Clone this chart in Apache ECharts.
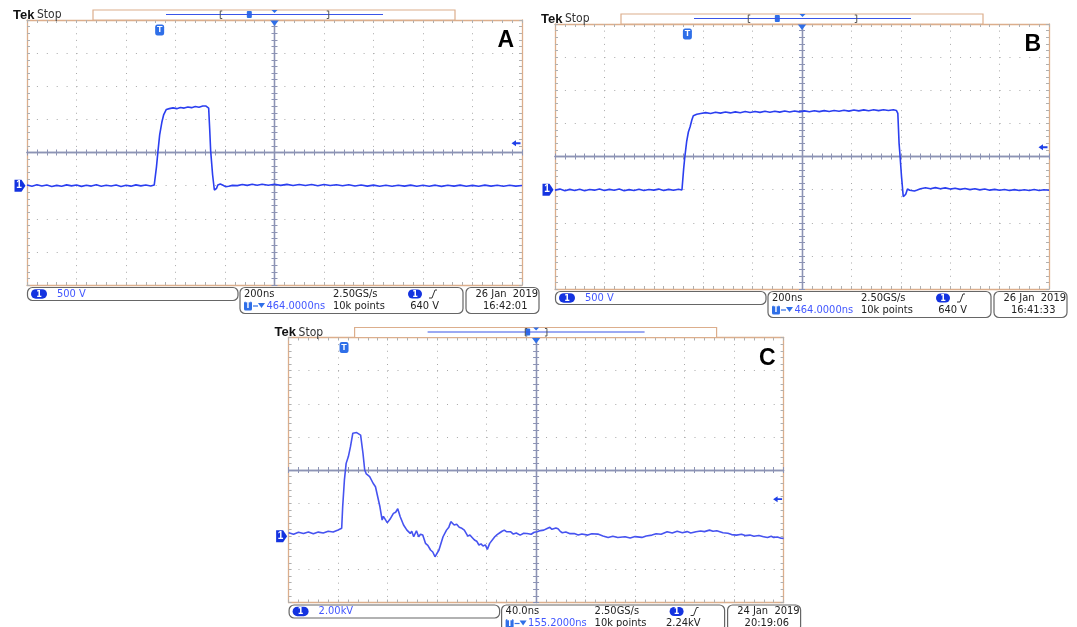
<!DOCTYPE html>
<html>
<head>
<meta charset="utf-8">
<title>Scope captures A, B, C</title>
<script src="https://cdn.jsdelivr.net/npm/echarts@6/dist/echarts.min.js"></script>
<style>
  html, body { margin: 0; padding: 0; background: #fff; }
  #charts { width: 1077px; height: 627px; }
</style>
</head>
<body>
<div id="charts"></div>
<script>
// traces: [time from left edge of screen (ns), value]
// A and B in volts, C in kV
const traceA = [
    [0, 8], [20, -10], [40, 12], [60, -6], [80, 10], [100, -12], [120, 4], [140, -9], [160, 11], [180, -4],
    [200, 9], [220, -11], [240, 5], [260, -7], [280, 12], [300, -10], [320, 6], [340, -5], [360, 10], [380, -12],
    [400, 5], [420, -8], [440, 11], [460, -4], [480, 9], [500, -7], [514, 8],
    [518, 30], [523, 280], [529, 514], [536, 765], [545, 960], [552, 1067], [563, 1150], [575, 1162],
    [590, 1174], [605, 1162], [620, 1180], [635, 1170], [650, 1188], [665, 1177], [680, 1194], [695, 1184],
    [710, 1201], [722, 1203], [730, 1206], [734, 1170], [738, 866], [742, 529], [750, 160], [757, -66],
    [761, -82], [766, -40], [771, 9], [781, 24], [792, 5], [802, -15], [815, -10], [830, 4], [850, 0],
    [870, 18], [890, 4], [910, 20], [930, 6], [950, 22], [975, 5], [1000, 20], [1025, 4], [1050, 19],
    [1075, 2], [1100, 18], [1125, 3], [1150, 16], [1175, -1], [1200, 17], [1225, 1], [1250, 14], [1275, -2],
    [1300, 12], [1325, -6], [1350, 9], [1375, -8], [1400, 8], [1425, -9], [1450, 6], [1475, -10], [1500, 5],
    [1525, -8], [1550, 8], [1575, -10], [1600, 6], [1625, -9], [1650, 7], [1675, -11], [1700, 5], [1725, -8],
    [1750, 8], [1775, -10], [1800, 4], [1825, -9], [1850, 7], [1875, -7], [1900, 6], [1925, -10], [1950, 5],
    [1975, -8], [2000, 3]
]
const traceB = [
    [0, -8], [20, 8], [40, -16], [60, 4], [80, -12], [100, 6], [120, -18], [140, 2], [160, -8], [180, 10],
    [200, -14], [220, 4], [240, -10], [260, 8], [280, -16], [300, 0], [320, -12], [340, 6], [360, -14], [380, 2],
    [400, -8], [420, 8], [440, -14], [460, 4], [480, -10], [500, 6], [514, -6],
    [518, -4], [521, 320], [526, 507], [533, 724], [540, 870], [547, 950], [554, 1050], [560, 1116], [574, 1137],
    [590, 1150], [610, 1162], [630, 1150], [650, 1168], [670, 1155], [690, 1172], [710, 1158], [730, 1174],
    [750, 1161], [770, 1178], [790, 1164], [810, 1180], [830, 1166], [850, 1182], [870, 1168], [890, 1184],
    [910, 1170], [930, 1186], [950, 1172], [970, 1188], [990, 1174], [1010, 1189], [1030, 1176], [1050, 1190],
    [1070, 1177], [1090, 1192], [1110, 1180], [1130, 1194], [1150, 1182], [1170, 1197], [1190, 1185],
    [1210, 1202], [1230, 1189], [1250, 1204], [1270, 1191], [1290, 1205], [1310, 1193], [1330, 1206],
    [1350, 1195], [1370, 1205], [1382, 1195], [1388, 1150], [1393, 698], [1397, 507], [1403, 193], [1410, -107],
    [1415, -115], [1420, -70], [1427, 9], [1436, -10], [1444, -32], [1455, -20], [1464, -8], [1480, 14],
    [1500, 28], [1520, 14], [1540, 30], [1560, 12], [1580, 26], [1600, 8], [1620, 22], [1640, 4], [1660, 18],
    [1680, 0], [1700, 14], [1720, -4], [1740, 10], [1760, -8], [1780, 4], [1800, -10], [1820, 2], [1840, -12],
    [1860, 0], [1880, -14], [1900, -2], [1920, -12], [1940, 2], [1960, -14], [1980, -2], [2000, -10]
]
const traceC = [
    [0, 0.21], [4, 0.12], [8, 0.24], [12, 0.17], [16, 0.26], [20, 0.15], [24, 0.25], [28, 0.2], [32, 0.3],
    [36, 0.26], [40, 0.38], [42.9, 0.48], [43.7, 1.78], [45.1, 3.4], [46.5, 4.4], [48.3, 4.81], [50, 5.41],
    [51.9, 6.22], [53.2, 6.31], [55, 6.26], [56.6, 6.31], [58.2, 6.11], [60.1, 5.01], [61.5, 4.0], [62.8, 3.76],
    [64, 3.82], [65.5, 3.6], [67, 3.5], [68.3, 3.2], [70.2, 2.99], [71.8, 2.89], [73.8, 1.78], [75.6, 0.98],
    [76.6, 1.2], [77.8, 1.18], [79.7, 0.82], [81.9, 1.02], [84.7, 1.38], [86.5, 1.45], [88.2, 1.66],
    [90.2, 1.18], [92.9, 0.68], [95.6, 0.37], [97, 0.45], [98.3, 0.17], [99.5, 0.3], [101.1, -0.03],
    [103.3, 0.33], [105.1, -0.03], [106.6, 0.12], [108.4, 0.07], [110.6, -0.43], [112.5, -0.55], [114.7, -0.83],
    [116.5, -0.95], [118.3, -1.24], [121.5, -0.83], [124.8, -0.03], [127.6, 0.37], [129.5, 0.55], [131.1, 0.88],
    [133.8, 0.68], [135.8, 0.72], [137.9, 0.54], [140, 0.48], [142, 0.37], [143.5, 0.45], [144.8, 0.01],
    [146.5, 0.08], [148.3, -0.07], [150.2, -0.23], [152, -0.3], [153.8, -0.53], [155.5, -0.46], [157.1, -0.59],
    [159, -0.52], [160.6, -0.79], [162.5, -0.43], [166.6, -0.03], [168.5, 0.1], [170.7, 0.21], [172.5, 0.3],
    [174.3, 0.37], [176, 0.28], [177.6, 0.21], [179.5, 0.27], [181.6, 0.13], [184, 0.2], [187.1, 0.07],
    [190, 0.18], [192.6, 0.17], [196, 0.12], [198.5, 0.24], [200.8, 0.27], [203.5, 0.34], [206.2, 0.37],
    [208.5, 0.45], [211.1, 0.54], [212.8, 0.42], [214.4, 0.37], [216, 0.5], [217.7, 0.45], [219.5, 0.3],
    [221.2, 0.21], [224, 0.26], [227, 0.16], [230.8, 0.17], [234, 0.08], [237, 0.14], [241.8, 0.07],
    [245, 0.15], [249.9, 0.13], [254, 0.02], [258.2, -0.07], [262, 0.0], [266, -0.08], [271.8, -0.03],
    [276, -0.1], [280, -0.02], [285.5, -0.07], [289, 0.02], [293.6, 0.07], [297, 0.15], [301, 0.12],
    [305.9, 0.27], [310, 0.2], [314, 0.3], [318.2, 0.21], [322, 0.28], [325, 0.2], [329.2, 0.27], [333, 0.32],
    [336, 0.28], [340.1, 0.37], [343, 0.3], [346, 0.33], [351, 0.21], [355, 0.18], [358, 0.1], [361.9, 0.07],
    [366, 0.12], [369, 0.04], [372.8, 0.07], [376, 0.0], [380, 0.05], [383.8, -0.03], [387, -0.08], [390, 0.0],
    [392, -0.07], [395, -0.05], [398, -0.12], [400, -0.13]
]

// scope settings of each capture
const panelNames = ['A', 'B', 'C']
const traces = [traceA, traceB, traceC]
const timePerDiv = [200, 200, 40]          // ns
const voltPerDiv = [500, 500, 2]           // V, V, kV
const groundDiv = [-1, -1, -2]             // ground marker, divisions from centre
const posDelay = [464, 464, 155.2]         // ns, centre of screen after trigger
const trigLevel = [640, 640, 2.24]
const recordLen = 4000                     // ns (10k points @ 2.5 GS/s)
const scaleLabels = ['500 V', '500 V', '2.00kV']
const timeLabels = ['200ns', '200ns', '40.0ns']
const levelLabels = ['640 V', '640 V', '2.24kV']
const dateLabels = ['26 Jan  2019', '26 Jan  2019', '24 Jan  2019']
const clockLabels = ['16:42:01', '16:41:33', '20:19:06']

// where each screen sits on the page
const layout = [
    { left: 27, top: 20, width: 495, height: 265 },
    { left: 555, top: 24, width: 494, height: 265 },
    { left: 288.6, top: 337.5, width: 495, height: 265 }
]
const traceColors = ['#2b3ff0', '#2b3ff0', '#4653f0']
const borderColor = '#dcae8c'
const crossColor = '#8c93b4'
const gridDot = '#a8a8a8'
const uiFont = "'Liberation Sans Narrow', 'DejaVu Sans Condensed', sans-serif"
const uiBlue = '#4257ff'
const iconBlue = '#2f6fe8'

let chart = echarts.init(document.getElementById('charts'))

function borderAxis(gi, pos, min, max, step, dash) {
    return {
        type: 'value', gridIndex: gi, position: pos, min: min, max: max, interval: step,
        axisLine: { show: true, onZero: false, lineStyle: { color: borderColor, width: 1.3 } },
        axisTick: { show: true, inside: true, length: 3, lineStyle: { color: '#b0b0b0' } },
        minorTick: { show: true, splitNumber: 5, length: 3, lineStyle: { color: '#b0b0b0' } },
        axisLabel: { show: false },
        splitLine: dash ? { show: true, lineStyle: { color: gridDot, width: 1, type: dash } } : { show: false },
        silent: true
    }
}

function centreAxis(gi, pos, half, other) {
    return {
        type: 'value', gridIndex: gi, position: pos, min: -half, max: half, interval: 1, z: 1,
        axisLine: { show: true, onZero: true, onZeroAxisIndex: other, lineStyle: { color: crossColor, width: 1.3 } },
        axisTick: { show: true, length: 3, lineStyle: { color: crossColor } },
        minorTick: { show: true, splitNumber: 5, length: 3, lineStyle: { color: crossColor } },
        axisLabel: { show: false },
        splitLine: { show: false },
        silent: true
    }
}

function txt(x, y, s, font, color, align) {
    return {
        type: 'text', silent: true, z: 50,
        style: {
            x: x, y: y, text: s, font: font, fill: color,
            align: align || 'left', textAlign: align || 'left',
            verticalAlign: 'middle', textVerticalAlign: 'middle'
        }
    }
}
function box(x, y, w, h, r, stroke, fill) {
    return {
        type: 'rect', silent: true, z: 40,
        shape: { x: x, y: y, width: w, height: h, r: r },
        style: { stroke: stroke, fill: fill, lineWidth: 1.2 }
    }
}
function line(points, color, width) {
    return { type: 'polyline', silent: true, z: 45, shape: { points: points }, style: { stroke: color, fill: null, lineWidth: width } }
}
function poly(points, color) {
    return { type: 'polygon', silent: true, z: 45, shape: { points: points }, style: { fill: color } }
}
function pill(x, y, w, h) {
    return [
        box(x, y, w, h, h / 2, null, '#1433e0'),
        txt(x + w / 2, y + h / 2 + 0.5, '1', 'bold 9px ' + uiFont, '#fff', 'center')
    ]
}

function panelGraphics(p) {
    const L = layout[p]
    const gx = L.left, top = L.top, gb = L.top + L.height
    let els = []

    // header
    els.push(txt(gx - 14, top - 5, 'Tek', 'bold 13px "Liberation Sans", sans-serif', '#111'))
    els.push(txt(gx + 10, top - 5, 'Stop', '12px ' + uiFont, '#333'))
    els.push(txt(gx + L.width - 8, top + 21, panelNames[p], 'bold 23px "Liberation Sans", sans-serif', '#000', 'right'))

    // record view bar
    const lineLen = 217
    const cx = gx + 247.5
    const bw = lineLen * 10 * timePerDiv[p] / recordLen
    els.push(box(gx + 66, top - 10, 362, 10, 0, borderColor, '#fff'))
    els.push(line([[gx + 139, top - 5.5], [gx + 356, top - 5.5]], '#3a55e8', 1.2))
    els.push(line([[cx - bw / 2 + 2, top - 9], [cx - bw / 2, top - 9], [cx - bw / 2, top - 1.5], [cx - bw / 2 + 2, top - 1.5]], '#555', 1))
    els.push(line([[cx + bw / 2 - 2, top - 9], [cx + bw / 2, top - 9], [cx + bw / 2, top - 1.5], [cx + bw / 2 - 2, top - 1.5]], '#555', 1))
    const tx = cx - posDelay[p] * lineLen / recordLen
    els.push(box(tx - 2.5, top - 9, 5, 7, 1, null, iconBlue))
    els.push(poly([[cx - 3, top - 10], [cx + 3, top - 10], [cx, top - 7]], iconBlue))

    // info bar
    els.push(box(gx + 0.5, gb + 2.5, 210.5, 13, 5, '#666', '#fff'))
    els = els.concat(pill(gx + 4, gb + 4.2, 16, 9.5))
    els.push(txt(gx + 30, gb + 9, scaleLabels[p], '11px ' + uiFont, uiBlue))

    els.push(box(gx + 213, gb + 2.5, 223, 26, 5, '#666', '#fff'))
    els.push(txt(gx + 217, gb + 9, timeLabels[p], '11px ' + uiFont, '#222'))
    els.push(txt(gx + 306, gb + 9, '2.50GS/s', '11px ' + uiFont, '#222'))
    els = els.concat(pill(gx + 381, gb + 4.5, 14, 9))
    els.push(line([[gx + 402, gb + 13], [gx + 405, gb + 13], [gx + 408, gb + 5], [gx + 410, gb + 5]], '#333', 1))
    els.push(box(gx + 217, gb + 16.5, 8, 9, 1.5, null, iconBlue))
    els.push(txt(gx + 221, gb + 21.3, 'T', 'bold 8px ' + uiFont, '#fff', 'center'))
    els.push(line([[gx + 226, gb + 21], [gx + 231, gb + 21]], iconBlue, 1.2))
    els.push(poly([[gx + 231, gb + 18], [gx + 238, gb + 18], [gx + 234.5, gb + 23]], iconBlue))
    els.push(txt(gx + 239.5, gb + 21, posDelay[p].toFixed(4) + 'ns', '11px ' + uiFont, uiBlue))
    els.push(txt(gx + 306, gb + 21, '10k points', '11px ' + uiFont, '#222'))
    els.push(txt(gx + 412, gb + 21, levelLabels[p], '11px ' + uiFont, '#222', 'right'))

    els.push(box(gx + 439, gb + 2.5, 73, 26, 5, '#666', '#fff'))
    els.push(txt(gx + 511, gb + 9, dateLabels[p], '11px ' + uiFont, '#222', 'right'))
    els.push(txt(gx + 456, gb + 21, clockLabels[p], '11px ' + uiFont, '#222'))
    return els
}

let grids = [], xAxes = [], yAxes = [], series = [], graphics = []
for (let p = 0; p < 3; p++) {
    const L = layout[p]
    const tMax = 10 * timePerDiv[p]
    const vMid = -groundDiv[p] * voltPerDiv[p]
    const vMin = vMid - 4 * voltPerDiv[p]
    const vMax = vMid + 4 * voltPerDiv[p]
    const divW = L.width / 10, divH = L.height / 8
    const g = { left: L.left, top: L.top, width: L.width, height: L.height, containLabel: false, outerBoundsMode: 'none' }
    grids.push(Object.assign({}, g), Object.assign({}, g))

    const gi = 2 * p, ai = 4 * p
    xAxes.push(
        borderAxis(gi, 'bottom', 0, tMax, timePerDiv[p], [1, divH / 5 - 1]),
        borderAxis(gi, 'top', 0, tMax, timePerDiv[p], null),
        centreAxis(gi + 1, 'bottom', 5, ai + 2),
        centreAxis(gi + 1, 'top', 5, ai + 2)
    )
    yAxes.push(
        borderAxis(gi, 'left', vMin, vMax, voltPerDiv[p], [1, divW / 5 - 1]),
        borderAxis(gi, 'right', vMin, vMax, voltPerDiv[p], null),
        centreAxis(gi + 1, 'left', 4, ai + 2),
        centreAxis(gi + 1, 'right', 4, ai + 2)
    )

    series.push({
        type: 'line', name: panelNames[p], xAxisIndex: ai, yAxisIndex: ai,
        data: traces[p], showSymbol: false, symbol: 'none', silent: true, z: 5,
        lineStyle: { color: traceColors[p], width: 1.6 },
        markPoint: {
            silent: true, animation: false,
            data: [
                {   // ground reference
                    coord: [0, 0], symbol: 'path://M0,0L7,0L11,5L7,10L0,10Z', symbolSize: [11, 12], symbolOffset: [-7, 0],
                    itemStyle: { color: '#1433e0' },
                    label: { show: true, formatter: '1', color: '#fff', fontSize: 10, fontWeight: 'bold', offset: [-1, 0] }
                },
                {   // trigger point
                    coord: [5 * timePerDiv[p] - posDelay[p], vMax], symbol: 'roundRect', symbolSize: [9, 11], symbolOffset: [0, 10],
                    itemStyle: { color: iconBlue },
                    label: { show: true, formatter: 'T', color: '#fff', fontSize: 9, fontWeight: 'bold' }
                },
                {   // horizontal position
                    coord: [tMax / 2, vMax], symbol: 'triangle', symbolRotate: 180, symbolSize: [9, 6], symbolOffset: [0, 3],
                    itemStyle: { color: iconBlue }, label: { show: false }
                },
                {   // trigger level
                    coord: [tMax, trigLevel[p]], symbol: 'path://M0,5L5,0L5,3.5L10,3.5L10,6.5L5,6.5L5,10Z',
                    symbolSize: [9, 6], symbolOffset: [-6, 0],
                    itemStyle: { color: '#1f40e8' }, label: { show: false }
                }
            ]
        }
    })
    graphics = graphics.concat(panelGraphics(p))
}

chart.setOption({
    animation: false,
    backgroundColor: '#fff',
    grid: grids,
    xAxis: xAxes,
    yAxis: yAxes,
    series: series,
    graphic: { elements: graphics }
})
</script>
</body>
</html>
